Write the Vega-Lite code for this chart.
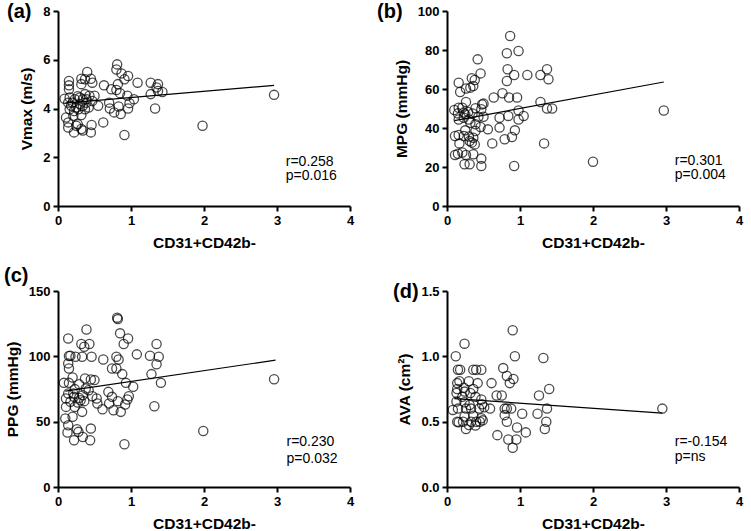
{
  "$schema": "https://vega.github.io/schema/vega-lite/v6.json",
  "padding": {"left": 4, "top": 2, "right": 2, "bottom": 0},
  "background": "white",
  "columns": 2,
  "spacing": {"column": 23, "row": 15},
  "config": {
    "view": {"stroke": null},
    "font": "Liberation Sans",
    "axis": {
      "grid": false,
      "domainColor": "black",
      "domainWidth": 2,
      "tickColor": "black",
      "tickWidth": 2,
      "tickSize": 5,
      "tickCount": 12,
      "labelFont": "Liberation Sans",
      "labelFontSize": 13,
      "labelFontWeight": "bold",
      "labelColor": "black",
      "labelPadding": 3,
      "labelOverlap": false,
      "labelFlush": false,
      "titleFont": "Liberation Sans",
      "titleFontSize": 15.5,
      "titleFontWeight": "bold",
      "titleColor": "black",
      "titlePadding": 8
    },
    "title": {"font": "Liberation Sans", "fontSize": 20, "fontWeight": "bold", "color": "black", "anchor": "start", "frame": "group", "baseline": "bottom", "offset": -17},
    "point": {"shape": "circle", "filled": false, "color": "black", "strokeWidth": 1.3, "size": 85},
    "line": {"color": "black", "strokeWidth": 1.2},
    "text": {"font": "Liberation Sans", "fontSize": 14, "align": "left", "baseline": "middle", "color": "black"}
  },
  "concat": [
    {
      "title": {"text": "(a)", "dx": -51},
      "width": 292, "height": 195,
      "layer": [
        {
          "data": {"values": [
            {"x":0.81,"y":5.81},{"x":0.80,"y":5.6},{"x":0.87,"y":5.44},{"x":0.40,"y":5.5},{"x":0.96,"y":5.33},{"x":0.32,"y":5.22},{"x":0.37,"y":5.2},{"x":0.45,"y":5.22},{"x":0.91,"y":5.2},{"x":0.15,"y":5.13},{"x":0.15,"y":4.95},{"x":0.32,"y":5.0},{"x":0.47,"y":5.06},{"x":0.63,"y":4.95},{"x":0.82,"y":5.0},{"x":1.09,"y":5.06},{"x":1.27,"y":5.06},{"x":1.37,"y":5.0},{"x":1.35,"y":4.86},{"x":0.73,"y":4.79},{"x":0.80,"y":4.76},{"x":0.15,"y":4.79},{"x":1.43,"y":4.68},{"x":1.37,"y":4.72},{"x":0.85,"y":4.63},{"x":1.27,"y":4.59},{"x":2.96,"y":4.56},{"x":0.09,"y":4.4},{"x":0.16,"y":4.45},{"x":0.23,"y":4.38},{"x":0.30,"y":4.45},{"x":0.37,"y":4.59},{"x":0.43,"y":4.52},{"x":0.50,"y":4.52},{"x":0.47,"y":4.31},{"x":0.55,"y":4.11},{"x":0.95,"y":4.52},{"x":1.04,"y":4.38},{"x":0.98,"y":4.22},{"x":0.70,"y":4.24},{"x":0.83,"y":4.08},{"x":0.96,"y":4.0},{"x":0.71,"y":4.0},{"x":1.33,"y":4.0},{"x":0.77,"y":3.84},{"x":0.86,"y":3.77},{"x":0.14,"y":4.24},{"x":0.18,"y":4.11},{"x":0.25,"y":4.04},{"x":0.30,"y":4.18},{"x":0.34,"y":4.11},{"x":0.39,"y":4.24},{"x":0.42,"y":4.04},{"x":0.22,"y":3.9},{"x":0.28,"y":3.97},{"x":0.37,"y":3.97},{"x":0.16,"y":3.97},{"x":0.11,"y":3.63},{"x":0.21,"y":3.7},{"x":0.32,"y":3.73},{"x":0.14,"y":3.43},{"x":0.27,"y":3.36},{"x":0.62,"y":3.43},{"x":0.46,"y":3.32},{"x":0.14,"y":3.22},{"x":0.25,"y":3.29},{"x":0.32,"y":3.16},{"x":0.34,"y":3.1},{"x":0.22,"y":3.02},{"x":0.45,"y":3.02},{"x":1.98,"y":3.29},{"x":0.91,"y":2.91},{"x":0.39,"y":4.38},{"x":0.20,"y":4.24},{"x":0.27,"y":4.5},{"x":0.34,"y":4.38}
          ]},
          "mark": "point",
          "encoding": {
            "x": {"field": "x", "type": "quantitative", "scale": {"domain": [0, 4], "nice": false}, "axis": {"values": [0,1,2,3,4], "format": "d", "title": "CD31+CD42b-"}},
            "y": {"field": "y", "type": "quantitative", "scale": {"domain": [0, 8], "nice": false}, "axis": {"values": [0,2,4,6,8], "format": "d", "title": "Vmax (m/s)"}}
          }
        },
        {
          "data": {"values": [{"x": 0.1, "y": 4.22}, {"x": 2.96, "y": 4.95}]},
          "mark": "line",
          "encoding": {"x": {"field": "x", "type": "quantitative"}, "y": {"field": "y", "type": "quantitative"}}
        },
        {
          "data": {"values": [{"x": 3.12, "y": 1.81, "label": "r=0.258"}, {"x": 3.12, "y": 1.23, "label": "p=0.016"}]},
          "mark": "text",
          "encoding": {"x": {"field": "x", "type": "quantitative"}, "y": {"field": "y", "type": "quantitative"}, "text": {"field": "label"}}
        }
      ]
    },
    {
      "title": {"text": "(b)", "dx": -70},
      "width": 292, "height": 195,
      "layer": [
        {
          "data": {"values": [
            {"x":0.865,"y":87.2},{"x":0.98,"y":79.5},{"x":0.82,"y":78.3},{"x":0.42,"y":75.2},{"x":0.83,"y":70.1},{"x":1.37,"y":70.1},{"x":1.10,"y":67.2},{"x":0.92,"y":67.2},{"x":1.28,"y":67.2},{"x":0.46,"y":68},{"x":1.39,"y":65},{"x":0.82,"y":64.1},{"x":0.34,"y":65.5},{"x":0.38,"y":64.6},{"x":0.16,"y":63.2},{"x":0.18,"y":58.5},{"x":0.76,"y":57.8},{"x":0.36,"y":61.5},{"x":0.32,"y":60.7},{"x":0.26,"y":60.3},{"x":0.64,"y":55.6},{"x":0.85,"y":55.6},{"x":0.96,"y":55.6},{"x":1.28,"y":53.3},{"x":0.26,"y":53.3},{"x":0.48,"y":52.1},{"x":0.50,"y":52.5},{"x":0.47,"y":49.6},{"x":1.37,"y":50},{"x":1.44,"y":50},{"x":0.98,"y":49},{"x":2.97,"y":49},{"x":0.10,"y":49.2},{"x":0.16,"y":50.4},{"x":0.21,"y":50.4},{"x":0.29,"y":48.2},{"x":0.15,"y":47.5},{"x":0.23,"y":47.9},{"x":0.39,"y":50.1},{"x":0.35,"y":47.4},{"x":0.43,"y":45.8},{"x":0.50,"y":45.8},{"x":1.05,"y":46.2},{"x":0.84,"y":46.2},{"x":0.72,"y":45.3},{"x":0.98,"y":44.4},{"x":0.16,"y":44.4},{"x":0.23,"y":45.3},{"x":0.32,"y":42.7},{"x":0.39,"y":41.9},{"x":0.46,"y":40.5},{"x":0.72,"y":40.2},{"x":0.56,"y":39.3},{"x":0.93,"y":38.8},{"x":0.39,"y":38.5},{"x":0.25,"y":38.8},{"x":0.16,"y":36.4},{"x":0.11,"y":35.9},{"x":0.23,"y":35.9},{"x":0.30,"y":35.6},{"x":0.36,"y":35},{"x":0.89,"y":35.4},{"x":0.79,"y":34.2},{"x":0.62,"y":32.1},{"x":1.33,"y":32.1},{"x":0.17,"y":32.1},{"x":0.31,"y":33.3},{"x":0.34,"y":32.5},{"x":0.38,"y":31.6},{"x":0.21,"y":27.4},{"x":0.11,"y":26.2},{"x":0.15,"y":26.8},{"x":0.36,"y":26.5},{"x":0.26,"y":26.2},{"x":0.47,"y":24.3},{"x":0.24,"y":21.4},{"x":0.31,"y":21.4},{"x":2.0,"y":22.7},{"x":0.47,"y":20.5},{"x":0.92,"y":20.5},{"x":0.30,"y":44.4},{"x":0.25,"y":47}
          ]},
          "mark": "point",
          "encoding": {
            "x": {"field": "x", "type": "quantitative", "scale": {"domain": [0, 4], "nice": false}, "axis": {"values": [0,1,2,3,4], "format": "d", "title": "CD31+CD42b-"}},
            "y": {"field": "y", "type": "quantitative", "scale": {"domain": [0, 100], "nice": false}, "axis": {"values": [0,20,40,60,80,100], "format": "d", "title": "MPG (mmHg)"}}
          }
        },
        {
          "data": {"values": [{"x": 0.1, "y": 43.8}, {"x": 2.97, "y": 63.6}]},
          "mark": "line",
          "encoding": {"x": {"field": "x", "type": "quantitative"}, "y": {"field": "y", "type": "quantitative"}}
        },
        {
          "data": {"values": [{"x": 3.12, "y": 23.2, "label": "r=0.301"}, {"x": 3.12, "y": 16.0, "label": "p=0.004"}]},
          "mark": "text",
          "encoding": {"x": {"field": "x", "type": "quantitative"}, "y": {"field": "y", "type": "quantitative"}, "text": {"field": "label"}}
        }
      ]
    },
    {
      "title": {"text": "(c)", "dx": -54, "offset": -1},
      "width": 292, "height": 196,
      "layer": [
        {
          "data": {"values": [
            {"x":0.81,"y":129.6},{"x":0.82,"y":128.5},{"x":0.39,"y":120.6},{"x":0.14,"y":113.7},{"x":0.85,"y":117.6},{"x":0.96,"y":113.7},{"x":1.35,"y":109.4},{"x":0.90,"y":109.4},{"x":0.32,"y":109.4},{"x":0.43,"y":109.4},{"x":0.36,"y":107.3},{"x":1.08,"y":101.5},{"x":1.26,"y":100.4},{"x":1.38,"y":99.7},{"x":0.15,"y":100.2},{"x":0.17,"y":100.4},{"x":0.24,"y":99.7},{"x":0.33,"y":99.7},{"x":0.46,"y":99.7},{"x":0.80,"y":99.7},{"x":0.83,"y":97.6},{"x":0.62,"y":97.6},{"x":1.35,"y":94},{"x":0.14,"y":94.6},{"x":0.15,"y":90.7},{"x":0.74,"y":90.7},{"x":0.80,"y":90.7},{"x":0.88,"y":86.4},{"x":1.28,"y":86.4},{"x":0.20,"y":83.8},{"x":0.37,"y":83.1},{"x":0.45,"y":82.3},{"x":0.50,"y":81.8},{"x":2.96,"y":82.5},{"x":0.08,"y":79.7},{"x":0.15,"y":79.7},{"x":0.29,"y":78.7},{"x":0.93,"y":79.7},{"x":1.41,"y":79.7},{"x":1.03,"y":76.7},{"x":0.38,"y":75.4},{"x":0.23,"y":74.9},{"x":0.42,"y":74.1},{"x":0.69,"y":72.8},{"x":0.14,"y":71.6},{"x":0.21,"y":71.6},{"x":0.34,"y":70.3},{"x":0.47,"y":69.5},{"x":0.97,"y":69.5},{"x":0.74,"y":69},{"x":0.11,"y":67.7},{"x":0.29,"y":68.2},{"x":0.53,"y":67.7},{"x":0.95,"y":67},{"x":0.82,"y":65.7},{"x":0.17,"y":65.2},{"x":0.27,"y":64.7},{"x":0.36,"y":65.7},{"x":0.54,"y":63.9},{"x":0.70,"y":63.9},{"x":0.92,"y":63.1},{"x":1.32,"y":61.8},{"x":0.11,"y":61.3},{"x":0.23,"y":61.3},{"x":0.61,"y":59.5},{"x":0.76,"y":58.8},{"x":0.86,"y":57.5},{"x":0.33,"y":57.5},{"x":0.20,"y":53.7},{"x":0.10,"y":52.4},{"x":0.14,"y":47.3},{"x":0.45,"y":44.7},{"x":0.26,"y":44.2},{"x":0.13,"y":41.7},{"x":0.28,"y":42.2},{"x":1.99,"y":42.9},{"x":0.34,"y":38.3},{"x":0.22,"y":35.8},{"x":0.44,"y":35.8},{"x":0.91,"y":32.7},{"x":0.31,"y":66.4},{"x":0.22,"y":69}
          ]},
          "mark": "point",
          "encoding": {
            "x": {"field": "x", "type": "quantitative", "scale": {"domain": [0, 4], "nice": false}, "axis": {"values": [0,1,2,3,4], "format": "d", "title": "CD31+CD42b-"}},
            "y": {"field": "y", "type": "quantitative", "scale": {"domain": [0, 150], "nice": false}, "axis": {"values": [0,50,100,150], "format": "d", "title": "PPG (mmHg)"}}
          }
        },
        {
          "data": {"values": [{"x": 0.1, "y": 73.4}, {"x": 2.98, "y": 97.1}]},
          "mark": "line",
          "encoding": {"x": {"field": "x", "type": "quantitative"}, "y": {"field": "y", "type": "quantitative"}}
        },
        {
          "data": {"values": [{"x": 3.13, "y": 34.5, "label": "r=0.230"}, {"x": 3.13, "y": 21.8, "label": "p=0.032"}]},
          "mark": "text",
          "encoding": {"x": {"field": "x", "type": "quantitative"}, "y": {"field": "y", "type": "quantitative"}, "text": {"field": "label"}}
        }
      ]
    },
    {
      "title": {"text": "(d)", "dx": -54},
      "width": 292, "height": 196,
      "layer": [
        {
          "data": {"values": [
            {"x":0.90,"y":1.2},{"x":0.24,"y":1.097},{"x":0.12,"y":1.0},{"x":0.93,"y":1.0},{"x":1.32,"y":0.987},{"x":0.15,"y":0.897},{"x":0.18,"y":0.897},{"x":0.36,"y":0.897},{"x":0.40,"y":0.897},{"x":0.47,"y":0.897},{"x":0.77,"y":0.91},{"x":0.82,"y":0.85},{"x":0.91,"y":0.826},{"x":0.86,"y":0.795},{"x":0.61,"y":0.795},{"x":0.42,"y":0.795},{"x":0.30,"y":0.81},{"x":0.17,"y":0.81},{"x":0.14,"y":0.795},{"x":0.14,"y":0.75},{"x":1.40,"y":0.75},{"x":0.36,"y":0.75},{"x":0.23,"y":0.76},{"x":0.24,"y":0.73},{"x":0.13,"y":0.72},{"x":0.32,"y":0.72},{"x":0.68,"y":0.70},{"x":0.75,"y":0.70},{"x":1.26,"y":0.70},{"x":0.47,"y":0.67},{"x":0.21,"y":0.69},{"x":0.39,"y":0.69},{"x":0.13,"y":0.654},{"x":0.24,"y":0.649},{"x":0.31,"y":0.628},{"x":0.48,"y":0.633},{"x":0.08,"y":0.59},{"x":0.15,"y":0.60},{"x":0.26,"y":0.60},{"x":0.33,"y":0.60},{"x":0.44,"y":0.60},{"x":0.51,"y":0.61},{"x":0.59,"y":0.60},{"x":0.79,"y":0.60},{"x":0.82,"y":0.60},{"x":0.88,"y":0.60},{"x":1.37,"y":0.60},{"x":2.95,"y":0.60},{"x":0.79,"y":0.55},{"x":1.03,"y":0.56},{"x":1.24,"y":0.56},{"x":0.24,"y":0.54},{"x":0.36,"y":0.546},{"x":0.47,"y":0.526},{"x":0.49,"y":0.51},{"x":0.14,"y":0.50},{"x":0.22,"y":0.50},{"x":0.33,"y":0.50},{"x":0.40,"y":0.50},{"x":0.45,"y":0.50},{"x":0.82,"y":0.50},{"x":1.36,"y":0.50},{"x":0.30,"y":0.474},{"x":0.39,"y":0.47},{"x":0.26,"y":0.444},{"x":0.96,"y":0.456},{"x":1.34,"y":0.444},{"x":1.08,"y":0.418},{"x":0.69,"y":0.397},{"x":0.84,"y":0.364},{"x":0.95,"y":0.364},{"x":0.90,"y":0.30},{"x":0.16,"y":0.495}
          ]},
          "mark": "point",
          "encoding": {
            "x": {"field": "x", "type": "quantitative", "scale": {"domain": [0, 4], "nice": false}, "axis": {"values": [0,1,2,3,4], "format": "d", "title": "CD31+CD42b-"}},
            "y": {"field": "y", "type": "quantitative", "scale": {"domain": [0, 1.5], "nice": false}, "axis": {"values": [0,0.5,1.0,1.5], "format": ".1f", "title": "AVA (cm²)"}}
          }
        },
        {
          "data": {"values": [{"x": 0.1, "y": 0.677}, {"x": 2.95, "y": 0.566}]},
          "mark": "line",
          "encoding": {"x": {"field": "x", "type": "quantitative"}, "y": {"field": "y", "type": "quantitative"}}
        },
        {
          "data": {"values": [{"x": 3.12, "y": 0.345, "label": "r=-0.154"}, {"x": 3.12, "y": 0.227, "label": "p=ns"}]},
          "mark": "text",
          "encoding": {"x": {"field": "x", "type": "quantitative"}, "y": {"field": "y", "type": "quantitative"}, "text": {"field": "label"}}
        }
      ]
    }
  ]
}
